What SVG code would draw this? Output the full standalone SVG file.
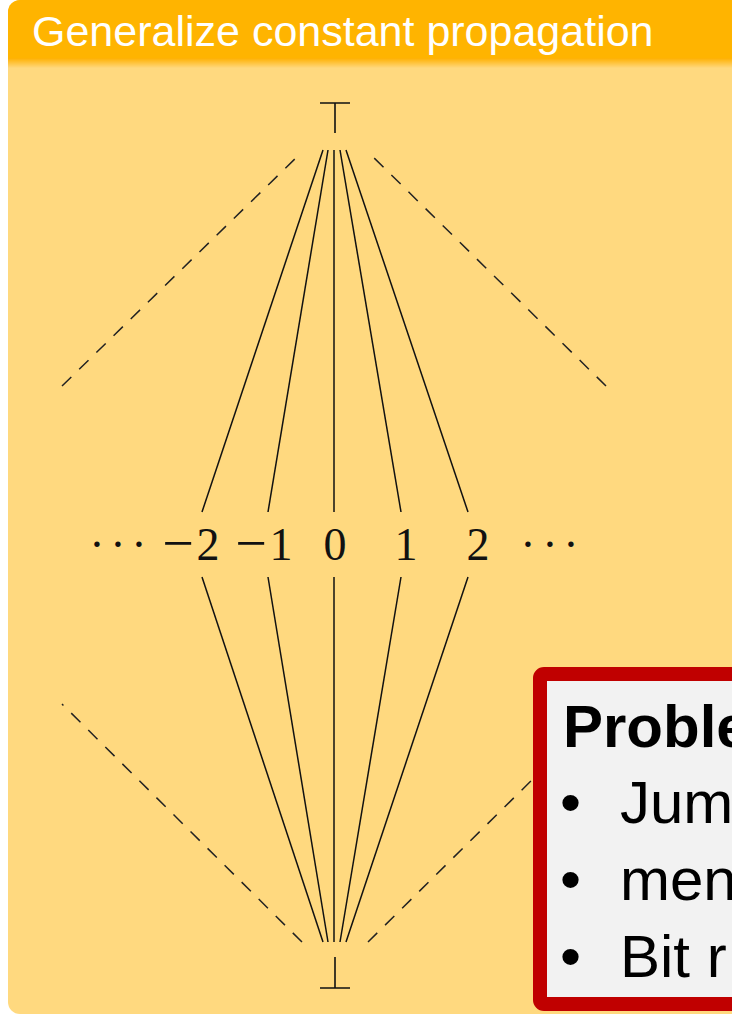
<svg xmlns="http://www.w3.org/2000/svg" width="732" height="1019" viewBox="0 0 732 1019">
<style>
.solid{stroke:#111;stroke-width:1.5;fill:none}
.dash{stroke:#222;stroke-width:1.5;fill:none;stroke-dasharray:13 11}
.sym{stroke:#111;stroke-width:1.6;fill:none}
.lbl{font-family:"Liberation Serif",serif;font-size:46px;fill:#111;text-anchor:middle}
.box{font-family:"Liberation Sans",Arial,sans-serif;font-size:60px;fill:#000}
</style>
<defs>
<linearGradient id="shade" x1="0" y1="0" x2="0" y2="1">
<stop offset="0" stop-color="#FFB000"/>
<stop offset="1" stop-color="#FFD87E"/>
</linearGradient>
</defs>
<rect width="732" height="1019" fill="#FFFFFF"/>
<g id="frame">
<rect x="8" y="0" width="740" height="1014" rx="12" fill="#FFD97F"/>
<path d="M8 60 V12 A12 12 0 0 1 20 0 H748 V60 Z" fill="#FFB400"/>
<rect x="8" y="58" width="740" height="10" fill="url(#shade)"/>
<text x="32" y="46" font-family="Liberation Sans, Arial, sans-serif" font-size="43" fill="#FFFFFF">Generalize constant propagation</text>
</g>
<g id="connectors">
<line class="solid" x1="323" y1="150" x2="202" y2="512"/>
<line class="solid" x1="328" y1="150" x2="268" y2="512"/>
<line class="solid" x1="334" y1="150" x2="334" y2="512"/>
<line class="solid" x1="340" y1="150" x2="401" y2="512"/>
<line class="solid" x1="346" y1="150" x2="468" y2="512"/>
<line class="solid" x1="202" y1="577" x2="323" y2="942"/>
<line class="solid" x1="268" y1="577" x2="328" y2="942"/>
<line class="solid" x1="334" y1="577" x2="334" y2="942"/>
<line class="solid" x1="401" y1="577" x2="340" y2="942"/>
<line class="solid" x1="468" y1="577" x2="346" y2="942"/>
<line class="dash" x1="62" y1="386" x2="302" y2="152"/>
<line class="dash" x1="606" y1="386" x2="368" y2="152"/>
<line class="dash" x1="302" y1="942" x2="62" y2="704"/>
<line class="dash" x1="368" y1="942" x2="540" y2="772"/>
</g>
<g id="top">
<path class="sym" d="M320 103 H350 M335 103 V133"/>
</g>
<g id="bottom">
<path class="sym" d="M320 988 H350 M335 957 V988"/>
</g>
<g id="values">
<text class="lbl" y="560"><tspan x="97">·</tspan><tspan x="118">·</tspan><tspan x="139">·</tspan></text>
<text class="lbl" y="562"><tspan x="178" font-size="56">−</tspan></text>
<text class="lbl" x="208" y="560">2</text>
<text class="lbl" y="562"><tspan x="251" font-size="56">−</tspan></text>
<text class="lbl" x="281" y="560">1</text>
<text class="lbl" x="335" y="560">0</text>
<text class="lbl" x="406" y="560">1</text>
<text class="lbl" x="478" y="560">2</text>
<text class="lbl" y="560"><tspan x="528">·</tspan><tspan x="550">·</tspan><tspan x="571">·</tspan></text>
</g>
<g id="problems">
<rect x="540" y="674" width="220" height="330" rx="4" fill="#F2F2F2" stroke="#C00000" stroke-width="14"/>
<text class="box" x="563" y="747" font-weight="bold">Proble</text>
<text class="box" y="823"><tspan x="560">•</tspan><tspan x="620">Jum</tspan></text>
<text class="box" y="900"><tspan x="560">•</tspan><tspan x="620">men</tspan></text>
<text class="box" y="977"><tspan x="560">•</tspan><tspan x="620">Bit r</tspan></text>
</g>
</svg>
